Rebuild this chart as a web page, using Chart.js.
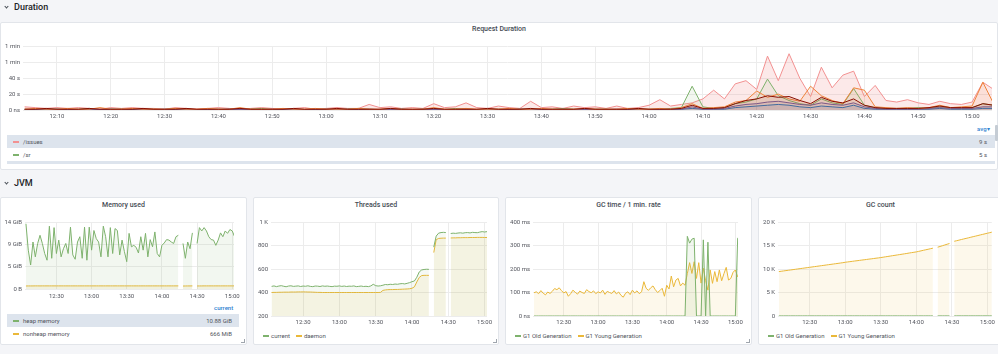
<!DOCTYPE html>
<html>
<head>
<meta charset="utf-8">
<title>Dashboard</title>
<script src="https://cdn.jsdelivr.net/npm/chart.js@4.4.1/dist/chart.umd.min.js"></script>
<style>
  body { margin: 0; width: 998px; height: 354px; overflow: hidden; position: relative;
         background: #f4f5f8; font-family: Roboto, 'Noto Sans', sans-serif; }
  .row-head { position: absolute; left: 14px; font-size: 9px; font-weight: 500; color: #202226; line-height: 12px; }
  .chev { position: absolute; left: 5px; width: 2px; height: 2px; border-right: 1px solid #464c54;
          border-bottom: 1px solid #464c54; transform: rotate(45deg); }
  .panel { position: absolute; background: #fff; border: 1px solid #e2e5ea; box-sizing: border-box; border-radius: 2px; }
  .ptitle { position: absolute; text-align: center; font-size: 7px; font-weight: 500; color: #464c54; line-height: 9px; }
  .chart { position: absolute; }
  .trow { position: absolute; height: 13px; font-size: 6px; color: #52545c; line-height: 13px; white-space: nowrap; }
  .trow .name { position: absolute; left: 16px; }
  .trow .val { position: absolute; right: 7px; }
  .hl { background: #dde4ed; }
  .sw { position: absolute; width: 6px; height: 2px; }
  .leg { position: absolute; font-size: 6px; color: #52545c; line-height: 13px; white-space: nowrap; display: flex; align-items: center; }
  .leg i { display: inline-block; width: 6px; height: 2px; margin-right: 2px; }
  .leg span { margin-right: 6px; }
  .colhead { position: absolute; font-size: 6px; font-weight: 500; color: #2f81d0; line-height: 8px; }
  .grip { position: absolute; width: 3px; height: 3px; border-right: 1px solid #9fa5ad; border-bottom: 1px solid #9fa5ad; }
</style>
</head>
<body>

<div class="chev" style="top:5px"></div>
<div class="row-head" style="top:1px">Duration</div>

<div class="panel" style="left:0; top:22px; width:998px; height:148px"></div>
<div class="ptitle" style="left:0; top:25px; width:998px">Request Duration</div>
<div class="chart" style="left:0; top:40px; width:998px; height:82px"><canvas id="durChart"></canvas></div>
<div class="colhead" style="left:977px; top:125px">avg▾</div>
<div id="durLegend"></div>
<div class="hl" style="position:absolute; left:7px; top:161px; width:988px; height:3px"></div>
<div style="position:absolute; left:995px; top:125px; width:3px; height:16px; background:#c5ccd4; border-radius:1px"></div>

<div class="chev" style="top:181px"></div>
<div class="row-head" style="top:177px">JVM</div>

<div class="panel" style="left:0; top:197px; width:247px; height:148px"></div>
<div class="ptitle" style="left:0; top:201px; width:247px">Memory used</div>
<div class="chart" style="left:0; top:214px; width:246px; height:87px"><canvas id="memChart"></canvas></div>
<div class="colhead" style="left:214px; top:304px">current</div>
<div id="memLegend"></div>
<div class="grip" style="left:241px; top:339px"></div>

<div class="panel" style="left:253px; top:197px; width:246px; height:148px"></div>
<div class="ptitle" style="left:253px; top:201px; width:246px">Threads used</div>
<div class="chart" style="left:253px; top:214px; width:245px; height:114px"><canvas id="thrChart"></canvas></div>
<div class="leg" id="thrLegend" style="left:263px; top:329px"></div>
<div class="grip" style="left:493px; top:339px"></div>

<div class="panel" style="left:505px; top:197px; width:247px; height:148px"></div>
<div class="ptitle" style="left:505px; top:201px; width:247px">GC time / 1 min. rate</div>
<div class="chart" style="left:505px; top:214px; width:246px; height:114px"><canvas id="gcTimeChart"></canvas></div>
<div class="leg" id="gcTimeLegend" style="left:515px; top:329px"></div>
<div class="grip" style="left:746px; top:339px"></div>

<div class="panel" style="left:758px; top:197px; width:245px; height:148px"></div>
<div class="ptitle" style="left:758px; top:201px; width:245px">GC count</div>
<div class="chart" style="left:758px; top:214px; width:240px; height:114px"><canvas id="gcCountChart"></canvas></div>
<div class="leg" id="gcCountLegend" style="left:768px; top:329px"></div>

<script>
// Grafana classic palette
const green = '#7eb26d';
const yellow = '#eab839';
const pink = '#f29191';
const orange = '#ef843c';
const darkRed = '#890f02';
const purple = '#705da0';
const blue = '#1f78c1';

const tickColor = '#52545c';
const gridColor = '#ececec';
const fontFam = "Roboto, 'Noto Sans', sans-serif";

// ---------- Request Duration: seconds, one sample every 2 min from 12:04 ----------
const durStart = 4;
const durStep = 2;
const durTickMins = [10, 20, 30, 40, 50, 60, 70, 80, 90, 100, 110, 120, 130, 140, 150, 160, 170, 180];
const durTickLabels = ['12:10', '12:20', '12:30', '12:40', '12:50', '13:00', '13:10', '13:20', '13:30',
                       '13:40', '13:50', '14:00', '14:10', '14:20', '14:30', '14:40', '14:50', '15:00'];
const durYTicks = [0, 20, 40, 60, 80];
const durYLabels = ['0 ns', '20 s', '40 s', '1 min', '1 min'];

const issuesDur = [4, 3, 2, 3, 2, 3, 2, 1, 3, 2,  3, 2, 2, 1, 3, 2, 1, 2, 3, 2,
                   1, 2, 3, 2, 1, 2, 3, 1, 2, 3,  2, 2, 7, 3, 4, 2, 3, 2, 8, 3,
                   4, 9, 3, 2, 5, 3, 2, 11, 3, 4,  2, 5, 3, 4, 2, 5, 2, 3, 6, 13,
                   5, 7, 9, 14, 25, 14, 33, 37, 26, 68,  37, 71, 40, 17, 54, 28, 44, 49, 17, 31,
                   12, 10, 13, 9, 7, 11, 8, 7, 10, 35,  26];
const srDur = [1, 0.5, 1, 1, 0.5, 1, 2, 0.5, 1, 1,  0.5, 1, 1, 0.5, 2, 1, 0.5, 1, 1, 0.5,
               1, 1, 2, 0.5, 1, 1, 0.5, 1, 1, 0.5,  1, 2, 1, 0.5, 1, 1, 0.5, 1, 1, 0.5,
               2, 1, 0.5, 1, 1, 0.5, 1, 1, 0.5, 1,  2, 1, 0.5, 1, 1, 0.5, 1, 1,
               1, 1, 2, 3, 30, 4, 2, 3, 8, 10,  14, 39, 18, 12, 8, 6, 14, 9, 7, 27,
               6, 3, 2, 2, 2, 3, 2, 4, 3, 2,  3, 8, 6];
const orangeDur = [1, 2, 1, 1, 2, 1, 1, 3, 1, 1,  2, 1, 1, 1, 2, 1, 1, 2, 1, 1,
                   3, 1, 1, 1, 2, 1, 1, 2, 1, 1,  1, 2, 1, 1, 2, 1, 1, 1, 3, 1,
                   1, 2, 1, 1, 1, 2, 1, 1, 2, 1,  1, 1, 2, 1, 1, 1, 2, 1,
                   1, 2, 1, 3, 8, 2, 3, 4, 10, 12,  24, 16, 20, 14, 11, 30, 18, 12, 8, 28,
                   25, 4, 3, 2, 3, 2, 3, 6, 3, 4,  5, 35, 8];
const darkRedDur = [1, 1, 2, 1, 1, 1, 2, 1, 1, 1,  1, 2, 1, 1, 1, 2, 1, 1, 1, 1,
                    2, 1, 1, 1, 1, 2, 1, 1, 1, 2,  1, 1, 1, 1, 2, 1, 1, 1, 2, 1,
                    1, 1, 1, 2, 1, 1, 1, 2, 1, 1,  1, 1, 2, 1, 1, 1, 1, 2,
                    1, 1, 1, 2, 6, 2, 2, 3, 8, 12,  14, 18, 16, 17, 12, 8, 16, 11, 9, 14,
                    6, 3, 2, 2, 2, 2, 3, 5, 3, 3,  3, 8, 6];
const purpleDur = [0.5, 0.5, 1, 0.5, 0.5, 0.5, 1, 0.5, 0.5, 0.5,  1, 0.5, 0.5, 0.5, 0.5, 1, 0.5, 0.5, 0.5, 1,
                   0.5, 0.5, 0.5, 1, 0.5, 0.5, 0.5, 0.5, 1, 0.5,  0.5, 0.5, 1, 0.5, 0.5, 0.5, 0.5, 1, 0.5, 0.5,
                   0.5, 1, 0.5, 0.5, 0.5, 0.5, 1, 0.5, 0.5, 0.5,  1, 0.5, 0.5, 0.5, 0.5, 1, 0.5, 0.5,
                   0.5, 0.5, 1, 1, 4, 1, 1, 2, 5, 7,  8, 10, 11, 9, 7, 6, 9, 7, 6, 9,
                   4, 2, 1, 1, 1, 1, 2, 3, 2, 2,  2, 4, 4];
const blueDur = [0.5, 0.5, 0.5, 1, 0.5, 0.5, 0.5, 0.5, 1, 0.5,  0.5, 0.5, 0.5, 1, 0.5, 0.5, 0.5, 0.5, 0.5, 1,
                 0.5, 0.5, 0.5, 0.5, 1, 0.5, 0.5, 0.5, 0.5, 0.5,  1, 0.5, 0.5, 0.5, 0.5, 1, 0.5, 0.5, 0.5, 0.5,
                 0.5, 1, 0.5, 0.5, 0.5, 0.5, 1, 0.5, 0.5, 0.5,  0.5, 0.5, 1, 0.5, 0.5, 0.5, 0.5, 1,
                 0.5, 0.5, 0.5, 1, 2, 1, 1, 1, 3, 4,  5, 6, 7, 6, 4, 3, 5, 4, 3, 6,
                 2, 1, 1, 1, 1, 1, 1, 2, 1, 1,  1, 2, 2];

const durLegendNames = ['/issues', '/sr'];
const durLegendAvg = ['9 s', '5 s'];
const durLegendColors = [pink, green];

// ---------- JVM panels: one sample every 2 min from 12:04 ----------
const jvmStart = 4;
const jvmStep = 2;
const jvmTickMins = [30, 60, 90, 120, 150, 180];
const jvmTickLabels = ['12:30', '13:00', '13:30', '14:00', '14:30', '15:00'];

// Memory used (GiB)
const memYTicks = [0, 4.657, 9.313, 13.97];
const memYLabels = ['0 B', '5 GiB', '9 GiB', '14 GiB'];
const heapMem = [13.6, 8.1, 5.0, 9.8, 6.7, 9.5, 11.2, 9.5, 7.4, 6.0,
                 13.1, 6.4, 12.8, 7.4, 10.2, 6.7, 8.4, 9.5, 7.4, 12.9,
                 7.1, 6.2, 9.8, 10.9, 6.4, 12.9, 6.0, 12.9, 8.1, 12.2,
                 10.5, 9.8, 6.7, 13.1, 10.9, 6.7, 12.8, 7.4, 12.6, 12.2,
                 7.1, 10.2, 7.8, 5.7, 11.6, 8.8, 9.1, 8.7, 7.5, 10.9,
                 8.1, 11.6, 6.7, 10.3, 8.8, 11.9, 7.4, 6.7, 9.1, 9.6,
                 10.3, 10.2, 9.8, 9.5, 10.9, 11.2, null, 9.5, 6.4, 9.8,
                 8.4, 11.7, null, 9.5, 12.8, 12.1, 12.8, 12.1, 10.9, 10.3,
                 10.2, 9.1, 10.2, 11.7, 10.9, 12.1, 11.6, 12.4, 12.1, 10.9,
                 11.5, 10.9];
const nonheapMem = [0.63, 0.64, 0.64, 0.64, 0.65, 0.65, 0.64, 0.65, 0.65, 0.65,
                    0.65, 0.65, 0.65, 0.65, 0.65, 0.65, 0.65, 0.65, 0.65, 0.65,
                    0.65, 0.65, 0.65, 0.65, 0.65, 0.65, 0.65, 0.65, 0.65, 0.65,
                    0.65, 0.65, 0.65, 0.65, 0.65, 0.65, 0.65, 0.65, 0.65, 0.65,
                    0.65, 0.65, 0.65, 0.65, 0.65, 0.65, 0.65, 0.65, 0.65, 0.65,
                    0.65, 0.65, 0.65, 0.65, 0.65, 0.65, 0.65, 0.65,
                    0.65, 0.65, 0.65, 0.65, 0.65, 0.65, 0.65, 0.65,
                    null, 0.62, 0.63, 0.64, 0.64, 0.65, null,
                    0.63, 0.64, 0.64, 0.65, 0.65, 0.65, 0.65, 0.65, 0.65, 0.65,
                    0.65, 0.65, 0.65, 0.65, 0.65, 0.65, 0.65, 0.65, 0.65];
const memLegendNames = ['heap memory', 'nonheap memory'];
const memLegendCurrent = ['10.88 GiB', '666 MiB'];

// Threads used
const thrYTicks = [200, 400, 600, 800, 1000];
const thrYLabels = ['200', '400', '600', '800', '1 K'];
const threadsCurrent = [452, 456, 450, 455, 458, 453, 449, 455, 457, 452,
                        454, 456, 451, 455, 453, 457, 452, 450, 455, 454,
                        451, 456, 453, 455, 452, 450, 454, 453, 456, 452,
                        455, 451, 454, 453, 456, 450, 452, 455, 451, 453,
                        450, 456, 470, 458, 455, 457, 462, 468, 466, 470,
                        468, 472, 470, 474, 476, 473, 478, 484,
                        492, 498, 530, 575, 592, 596, 598, 597, null, 786,
                        880, 905, 910, 912, 910, null, 902, 905, 903, 906,
                        908, 905, 909, 910, 907, 912, 910, 909, 914, 918,
                        915, 918, 912, 910];
const threadsDaemon = [400, 401, 401, 402, 402, 403, 403, 403, 404, 404,
                       404, 405, 405, 405, 405, 404, 404, 403, 402, 401,
                       401, 400, 400, 400, 400, 400, 400, 400, 400, 400,
                       400, 400, 400, 400, 400, 400, 400, 400, 400, 400,
                       400, 400, 400, 400, 400, 401, 418, 422, 424, 425,
                       425, 426, 426, 427, 428, 429, 430, 432,
                       436, 448, 490, 528, 544, 546, 546, 546, null, 740,
                       850, 860, 862, 863, 863, null, 864, 865, 865, 866,
                       866, 867, 867, 867, 868, 868, 868, 869, 869, 869,
                       868, 868, 867, 866];
const thrLegendNames = ['current', 'daemon'];

// GC time / 1 min. rate (ms)
const gcTimeYTicks = [0, 100, 200, 300, 400];
const gcTimeYLabels = ['0 ns', '100 ms', '200 ms', '300 ms', '400 ms'];
const gcOldTime = [0, 0, 0, 0, 0, 0, 0, 0, 0, 0,
                   0, 0, 0, 0, 0, 0, 0, 0, 0, 0,
                   0, 0, 0, 0, 0, 0, 0, 0, 0, 0,
                   0, 0, 0, 0, 0, 0, 0, 0, 0, 0,
                   0, 0, 0, 0, 0, 0, 0, 0, 0, 0,
                   0, 0, 0, 0, 0, 0, 0, 0, 0, 0,
                   0, 0, 0, 0, 0, 0, 0,
                   339, 310, 327, 331, 0, 0, 0, 324, 0, 314,
                   0, 0, 0, 0, 0, 0, 0, 0, 0, 0, 0, 0,
                   331, 328, 330];
const gcYoungTime = [99, 103, 95, 108, 97, 90, 102, 96, 105, 117,
                     112, 120, 108, 98, 104, 84, 95, 110, 101, 93,
                     106, 100, 96, 112, 104, 99, 107, 95,
                     103, 98, 110, 92, 105, 100, 96, 108, 94, 102,
                     88, 80, 97, 103, 91, 110, 98, 107, 95, 103,
                     146, 118, 109, 120, 128, 112, 100, 108, 118, 84,
                     131, 115, 170, 124, 153, 160, 128, 140, 131, 180,
                     227, 181, 231, 160, 227, 140, 203, 150, 110, 196,
                     139, 189, 146, 196, 150, 180, 207, 153, 160, 186,
                     196, 167, 184, 178];

// GC count
const gcCountYTicks = [0, 5000, 10000, 15000, 20000];
const gcCountYLabels = ['0', '5 K', '10 K', '15 K', '20 K'];
const gcOldCount = [18, 18, 18, 18, 18, 18, 18, 18, 18, 18,
                    18, 18, 18, 18, 18, 18, 18, 18, 18, 18,
                    18, 18, 18, 18, 18, 18, 18, 18, 18, 18,
                    18, 18, 18, 18, 18, 18, 18, 18, 18, 18,
                    18, 18, 18, 18, 18, 18, 18, 18, 18, 18,
                    18, 18, 18, 18, 18, 18, 18, 18,
                    18, 18, 18, 18, 18, 18, 18, 18,
                    null, 20, 21, 22, 23, 23, 23, null,
                    24, 24, 25, 25, 25, 25, 25, 25, 25, 25,
                    25, 25, 25, 25, 25, 25, 26, 26];
const gcYoungCount = [9450, 9520, 9590, 9660, 9730, 9800, 9870, 9940, 10010, 10080,
                      10150, 10220, 10290, 10360, 10430, 10500, 10570, 10640, 10710, 10780,
                      10850, 10920, 10990, 11060, 11130, 11200, 11270, 11340, 11430, 11500,
                      11560, 11630, 11700, 11760, 11830, 11900, 11960, 12030, 12100, 12160,
                      12230, 12300, 12360, 12430, 12510, 12590, 12670, 12750, 12830, 12910,
                      12990, 13070, 13150, 13230, 13310, 13400, 13480, 13560,
                      13640, 13750, 13860, 13980, 14090, 14200, 14320, 14430,
                      null, 14640, 14790, 14950, 15110, 15270, 15420, null,
                      15900, 16020, 16140, 16270, 16390, 16510, 16630, 16760, 16880, 17000,
                      17120, 17250, 17370, 17490, 17610, 17730, 17860, 17980];
const gcLegendNames = ['G1 Old Generation', 'G1 Young Generation'];

// ---------- helpers ----------
function toPoints(start, step, values) {
    return values.map((v, i) => ({ x: start + i * step, y: v }));
}

function fade(hex, a) {
    const n = parseInt(hex.slice(1), 16);
    return `rgba(${(n >> 16) & 255}, ${(n >> 8) & 255}, ${n & 255}, ${a})`;
}

function series(label, start, step, values, color, alpha, order) {
    return {
        label: label,
        data: toPoints(start, step, values),
        borderColor: color,
        backgroundColor: fade(color, alpha),
        fill: 'start',
        order: order || 0
    };
}

function makeChart(id, cfg) {
    const tickFont = { family: fontFam, size: 6 };
    return new Chart(document.getElementById(id), {
        type: 'line',
        data: { datasets: cfg.datasets },
        options: {
            responsive: true,
            maintainAspectRatio: false,
            animation: false,
            layout: { padding: cfg.padding },
            plugins: { legend: { display: false }, tooltip: { enabled: false } },
            elements: {
                point: { radius: 0 },
                line: { borderWidth: 1, tension: 0 }
            },
            scales: {
                x: {
                    type: 'linear',
                    min: cfg.xMin,
                    max: cfg.xMax,
                    afterBuildTicks: s => { s.ticks = cfg.xTicks.map(v => ({ value: v })); },
                    afterFit: s => { s.height = 12; },
                    ticks: {
                        autoSkip: false, maxRotation: 0, padding: cfg.xPad || 3,
                        color: tickColor, font: tickFont,
                        callback: v => cfg.xLabels[cfg.xTicks.indexOf(v)]
                    },
                    grid: { color: gridColor, drawTicks: false },
                    border: { display: false }
                },
                y: {
                    min: cfg.yTicks[0],
                    max: cfg.yTicks[cfg.yTicks.length - 1],
                    afterBuildTicks: s => { s.ticks = cfg.yTicks.map(v => ({ value: v })); },
                    afterFit: s => { s.width = cfg.yWidth; },
                    ticks: {
                        padding: 3, color: tickColor, font: tickFont,
                        callback: v => cfg.yLabels[cfg.yTicks.indexOf(v)]
                    },
                    grid: { color: gridColor, drawTicks: false },
                    border: { display: false }
                }
            }
        }
    });
}

// ---------- Request Duration ----------
makeChart('durChart', {
    datasets: [
        series('/issues', durStart, durStep, issuesDur, pink, 0.2, 9),
        series('/sr', durStart, durStep, srDur, green, 0.1, 5),
        series('blue', durStart, durStep, blueDur, blue, 0.1, 4),
        series('purple', durStart, durStep, purpleDur, purple, 0.1, 3),
        series('orange', durStart, durStep, orangeDur, orange, 0.1, 2),
        series('dark red', durStart, durStep, darkRedDur, darkRed, 0.1, 1)
    ],
    padding: { top: 6, right: 6 },
    xMin: 3.7, xMax: 183.7, xTicks: durTickMins, xLabels: durTickLabels,
    yTicks: durYTicks, yLabels: durYLabels, yWidth: 23
});

const durLegend = document.getElementById('durLegend');
durLegendNames.forEach((name, i) => {
    const row = document.createElement('div');
    row.className = 'trow' + (i % 2 === 0 ? ' hl' : '');
    row.style.cssText = `left:7px; top:${135 + i * 13}px; width:988px;`;
    row.innerHTML = `<div class="sw" style="left:6px; top:6px; background:${durLegendColors[i]}"></div>` +
        `<span class="name">${name}</span><span class="val" style="right:8px">${durLegendAvg[i]}</span>`;
    durLegend.appendChild(row);
});

// ---------- Memory used ----------
makeChart('memChart', {
    datasets: [
        series('heap memory', jvmStart, jvmStep, heapMem, green, 0.1),
        series('nonheap memory', jvmStart, jvmStep, nonheapMem, yellow, 0.1)
    ],
    padding: { top: 8, right: 12 },
    xMin: 3.2, xMax: 181.5, xTicks: jvmTickMins, xLabels: jvmTickLabels, xPad: 4,
    yTicks: memYTicks, yLabels: memYLabels, yWidth: 25
});

const memLegend = document.getElementById('memLegend');
const memColors = [green, yellow];
memLegendNames.forEach((name, i) => {
    const row = document.createElement('div');
    row.className = 'trow' + (i === 0 ? ' hl' : '');
    row.style.cssText = `left:7px; top:${314 + i * 13}px; width:232px;`;
    row.innerHTML = `<div class="sw" style="left:6px; top:6px; background:${memColors[i]}"></div>` +
        `<span class="name">${name}</span><span class="val">${memLegendCurrent[i]}</span>`;
    memLegend.appendChild(row);
});

// ---------- Threads used ----------
makeChart('thrChart', {
    datasets: [
        series('current', jvmStart, jvmStep, threadsCurrent, green, 0.08),
        series('daemon', jvmStart, jvmStep, threadsDaemon, yellow, 0.1)
    ],
    padding: { top: 8, right: 11 },
    xMin: 3.5, xMax: 182, xTicks: jvmTickMins, xLabels: jvmTickLabels,
    yTicks: thrYTicks, yLabels: thrYLabels, yWidth: 18
});

// ---------- GC time ----------
makeChart('gcTimeChart', {
    datasets: [
        series('G1 Old Generation', jvmStart, jvmStep, gcOldTime, green, 0.1),
        series('G1 Young Generation', jvmStart, jvmStep, gcYoungTime, yellow, 0.1)
    ],
    padding: { top: 8, right: 13 },
    xMin: 3.1, xMax: 182.3, xTicks: jvmTickMins, xLabels: jvmTickLabels,
    yTicks: gcTimeYTicks, yLabels: gcTimeYLabels, yWidth: 28
});

// ---------- GC count ----------
makeChart('gcCountChart', {
    datasets: [
        series('G1 Old Generation', jvmStart, jvmStep, gcOldCount, green, 0.1),
        series('G1 Young Generation', jvmStart, jvmStep, gcYoungCount, yellow, 0.1)
    ],
    padding: { top: 8, right: 6 },
    xMin: 3.3, xMax: 183.7, xTicks: jvmTickMins, xLabels: jvmTickLabels,
    yTicks: gcCountYTicks, yLabels: gcCountYLabels, yWidth: 20
});

// simple bottom legends
function simpleLegend(id, names, colors) {
    const el = document.getElementById(id);
    names.forEach((name, i) => {
        el.insertAdjacentHTML('beforeend', `<i style="background:${colors[i]}"></i><span>${name}</span>`);
    });
}
simpleLegend('thrLegend', thrLegendNames, [green, yellow]);
simpleLegend('gcTimeLegend', gcLegendNames, [green, yellow]);
simpleLegend('gcCountLegend', gcLegendNames, [green, yellow]);
</script>
</body>
</html>
